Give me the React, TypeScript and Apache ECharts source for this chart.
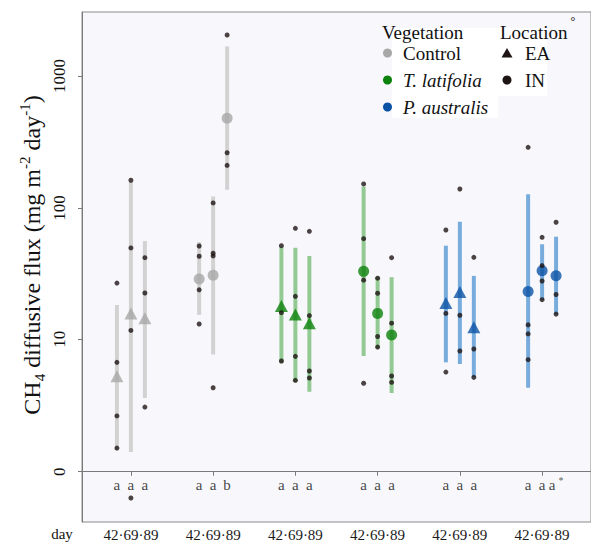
import React, { useEffect, useRef } from "react";
import * as echarts from "echarts";

// ---- data (flux in mg m-2 day-1) ----
const days = ["42", "69", "89"];
const groupVegetation = ["Control", "Control", "T. latifolia", "T. latifolia", "P. australis", "P. australis"];
const groupLocation = ["EA", "IN", "EA", "IN", "EA", "IN"];
const meanFlux = [
  [5.1, 15.8, 14.5],
  [28.9, 30.8, 478],
  [18.0, 15.5, 13.3],
  [33.0, 15.8, 10.8],
  [19.0, 23.0, 12.4],
  [23.2, 33.4, 30.6],
];
const lowerFlux = [
  [0.78, 0.7, 3.35],
  [15.4, 7.6, 137],
  [6.5, 4.55, 3.8],
  [7.4, 8.5, 3.7],
  [6.6, 6.4, 5.0],
  [4.1, 20.0, 15.5],
];
const upperFlux = [
  [18.3, 158, 56],
  [55, 122, 1670],
  [50.8, 49.9, 43.2],
  [145, 30, 29.8],
  [51.7, 78.6, 30.5],
  [127, 53, 60.5],
];
const sampleFlux = [
  [[26.9, 6.6, 2.27, 0.85], [162, 49.7, 11.7, -0.95], [41.9, 22.6, 2.77]],
  [[51.4, 43, 23.9, 13.1], [109, 45.3, 43.2, 4.1], [2046, 262, 210]],
  [[51.7, 16, 6.76], [70, 21.3, 7.36, 4.73], [66.4, 15.2, 5.63, 4.94]],
  [[152, 58.4, 28.3, 4.47], [29.3, 22.5, 10.5, 8.7], [41.9, 13.3, 5.13, 4.55]],
  [[68, 15.8, 5.52], [139, 15.3, 8.1], [42.2, 8.4, 5.0]],
  [[288, 12.9, 11, 6.93], [59.8, 36.5, 27.9, 20.1], [77.8, 22, 15.6]],
];
const letters = [
  ["a", "a", "a"],
  ["a", "a", "b"],
  ["a", "a", "a"],
  ["a", "a", "a"],
  ["a", "a", "a"],
  ["a", "a", "a*"],
];
const yTickValues = [0, 10, 100, 1000];

// ---- styles ----
const vegColor: Record<string, string> = {
  Control: "#a8a8a8",
  "T. latifolia": "#0c820c",
  "P. australis": "#0b52a5",
};
const barColor: Record<string, string> = {
  Control: "#d2d2d2",
  "T. latifolia": "#93c993",
  "P. australis": "#78acdc",
};
const SERIF = "Liberation Serif";

// pseudo-log (base 10) transform used by the axis
const pl = (v: number) => Math.asinh(v / 2) / Math.LN10;
const subOffset = 0.17;
const xOf = (g: number, d: number) => g + 1 + (d - 1) * subOffset;

const rs = (size: number, extra: any = {}) => ({ fontSize: size, fontFamily: SERIF, fill: "#111111", color: "#111111", ...extra });

const rtxt = (x: number, y: number, text: string, size: number, extra: any = {}, align = "left", rotation = 0) => ({
  type: "text",
  x,
  y,
  rotation,
  style: {
    text: `{a|${text}}`,
    align,
    verticalAlign: "middle",
    rich: { a: rs(size, extra) },
  },
});

export default function App() {
  const ref = useRef<HTMLDivElement>(null);
  useEffect(() => {
    const chart = echarts.init(ref.current!, null, { renderer: "svg" });

    const barData: any[] = [];
    const meanData: any[] = [];
    const dotData: any[] = [];
    const letterData: any[] = [];
    meanFlux.forEach((row, g) => {
      const veg = groupVegetation[g];
      row.forEach((m, d) => {
        const x = xOf(g, d);
        barData.push({ value: [x, pl(lowerFlux[g][d]), pl(upperFlux[g][d]), g] });
        meanData.push({
          value: [x, pl(m)],
          symbol: groupLocation[g] === "EA" ? "triangle" : "circle",
          symbolSize: groupLocation[g] === "EA" ? [13, 12] : 11,
          itemStyle: { color: vegColor[veg] },
        });
        sampleFlux[g][d].forEach((s) => dotData.push([x, pl(s)]));
        letterData.push({ value: [x, -0.1], name: letters[g][d] });
      });
    });

    const baseGraphic: any[] = [
      {
        type: "text",
        x: 32,
        y: 255,
        rotation: Math.PI / 2,
        style: {
          text: "{a|CH}{s|4}{a| diffusive flux (mg m}{p|-2}{a| day}{p|-1}{a|)}",
          align: "center",
          verticalAlign: "middle",
          rich: {
            a: { fontSize: 24, fontFamily: SERIF, fill: "#111", lineHeight: 30, verticalAlign: "middle" },
            s: { fontSize: 15, fontFamily: SERIF, fill: "#111", lineHeight: 30, verticalAlign: "bottom", padding: [10, 0, 0, 0] },
            p: { fontSize: 15, fontFamily: SERIF, fill: "#111", lineHeight: 30, verticalAlign: "top", padding: [0, 0, 10, 0] },
          },
        },
        z: 10,
      },
      { ...rtxt(62, 534, "day", 15, {}, "center"), z: 10 },
      {
        type: "group",
        z: 10,
        children: [
          { type: "rect", shape: { x: 392, y: 28, width: 155, height: 68 }, style: { fill: "#ffffff" } },
          { type: "rect", shape: { x: 392, y: 96, width: 106, height: 22 }, style: { fill: "#ffffff" } },
          rtxt(382, 32, "Vegetation", 19),
          { type: "circle", shape: { cx: 387.5, cy: 53, r: 4.5 }, style: { fill: vegColor["Control"] } },
          rtxt(403, 53, "Control", 19),
          { type: "circle", shape: { cx: 387.5, cy: 80, r: 4.5 }, style: { fill: vegColor["T. latifolia"] } },
          rtxt(403, 80, "T. latifolia", 19, { fontStyle: "italic" }),
          { type: "circle", shape: { cx: 387.5, cy: 107, r: 4.5 }, style: { fill: vegColor["P. australis"] } },
          rtxt(403, 107, "P. australis", 19, { fontStyle: "italic" }),
          rtxt(500, 32, "Location", 19),
          rtxt(573, 21, "°", 12, {}, "center"),
          { type: "polygon", shape: { points: [[507, 48], [512.5, 57.5], [501.5, 57.5]] }, style: { fill: "#1e1414" } },
          rtxt(525, 53, "EA", 19),
          { type: "circle", shape: { cx: 507, cy: 80, r: 4.5 }, style: { fill: "#1e1414" } },
          rtxt(525, 80, "IN", 19),
        ],
      },
    ];

    chart.setOption({
      animation: false,
      backgroundColor: "#ffffff",
      grid: {
        left: 82,
        top: 12,
        width: 510,
        height: 510,
        show: true,
        backgroundColor: "#f8f8fc",
        borderColor: "#8a8a8a",
        borderWidth: 1,
      },
      xAxis: {
        type: "value",
        min: 0.4053,
        max: 6.5947,
        axisLine: { show: true, lineStyle: { color: "#7a7a7a" } },
        axisTick: { show: true, customValues: [1, 2, 3, 4, 5, 6], length: 4, lineStyle: { color: "#7a7a7a" } },
        axisLabel: {
          customValues: [1, 2, 3, 4, 5, 6],
          formatter: () => `{a|${days.join("·")}}`,
          rich: { a: { fontSize: 15, fontFamily: SERIF, color: "#1a1a1a" } },
          margin: 5,
        },
        splitLine: { show: false },
      },
      yAxis: {
        type: "value",
        min: -0.381,
        max: 3.485,
        axisLine: { show: true, lineStyle: { color: "#7a7a7a" } },
        axisTick: { show: true, customValues: yTickValues.map(pl), length: 4, lineStyle: { color: "#7a7a7a" } },
        axisLabel: { show: false },
        splitLine: { show: false },
      },
      series: [
        {
          type: "custom",
          data: barData,
          encode: { x: 0, y: [1, 2] },
          z: 1,
          renderItem: (params: any, api: any) => {
            const x = api.value(0);
            const p1 = api.coord([x, api.value(1)]);
            const p2 = api.coord([x, api.value(2)]);
            const g = api.value(3);
            return {
              type: "rect",
              shape: { x: p1[0] - 2, y: p2[1], width: 4, height: p1[1] - p2[1] },
              style: { fill: barColor[groupVegetation[g]] },
            };
          },
        },
        { type: "scatter", data: meanData, z: 3 },
        {
          type: "scatter",
          data: dotData,
          symbol: "circle",
          symbolSize: 5,
          itemStyle: { color: "#1e1414" },
          z: 4,
        },
        {
          type: "scatter",
          data: letterData,
          symbolSize: 0,
          z: 5,
          label: {
            show: true,
            position: "inside",
            formatter: (p: any) => {
              const s = String(p.name);
              return s.endsWith("*") ? `{a|${s.slice(0, -1)}}{b|*}` : `{a|${s}}`;
            },
            rich: {
              a: { fontSize: 15, fontFamily: SERIF, color: "#111111" },
              b: { fontSize: 10, fontFamily: SERIF, color: "#333333", verticalAlign: "top", padding: [0, 0, 8, 3] },
            },
          },
          emphasis: { disabled: true },
        },
      ],
      graphic: baseGraphic,
    });

    // rotated y tick labels placed through the y axis scale
    const yLabels = yTickValues.map((t) => {
      const py = chart.convertToPixel({ yAxisIndex: 0 }, pl(t)) as number;
      return { ...rtxt(59, py, String(t), 17, {}, "center", Math.PI / 2), z: 10 };
    });
    chart.setOption({ graphic: [...baseGraphic, ...yLabels] }, { replaceMerge: ["graphic"] });

    return () => chart.dispose();
  }, []);
  return <div ref={ref} style={{ width: 591, height: 543, position: "absolute", left: 0, top: 0 }} />;
}
